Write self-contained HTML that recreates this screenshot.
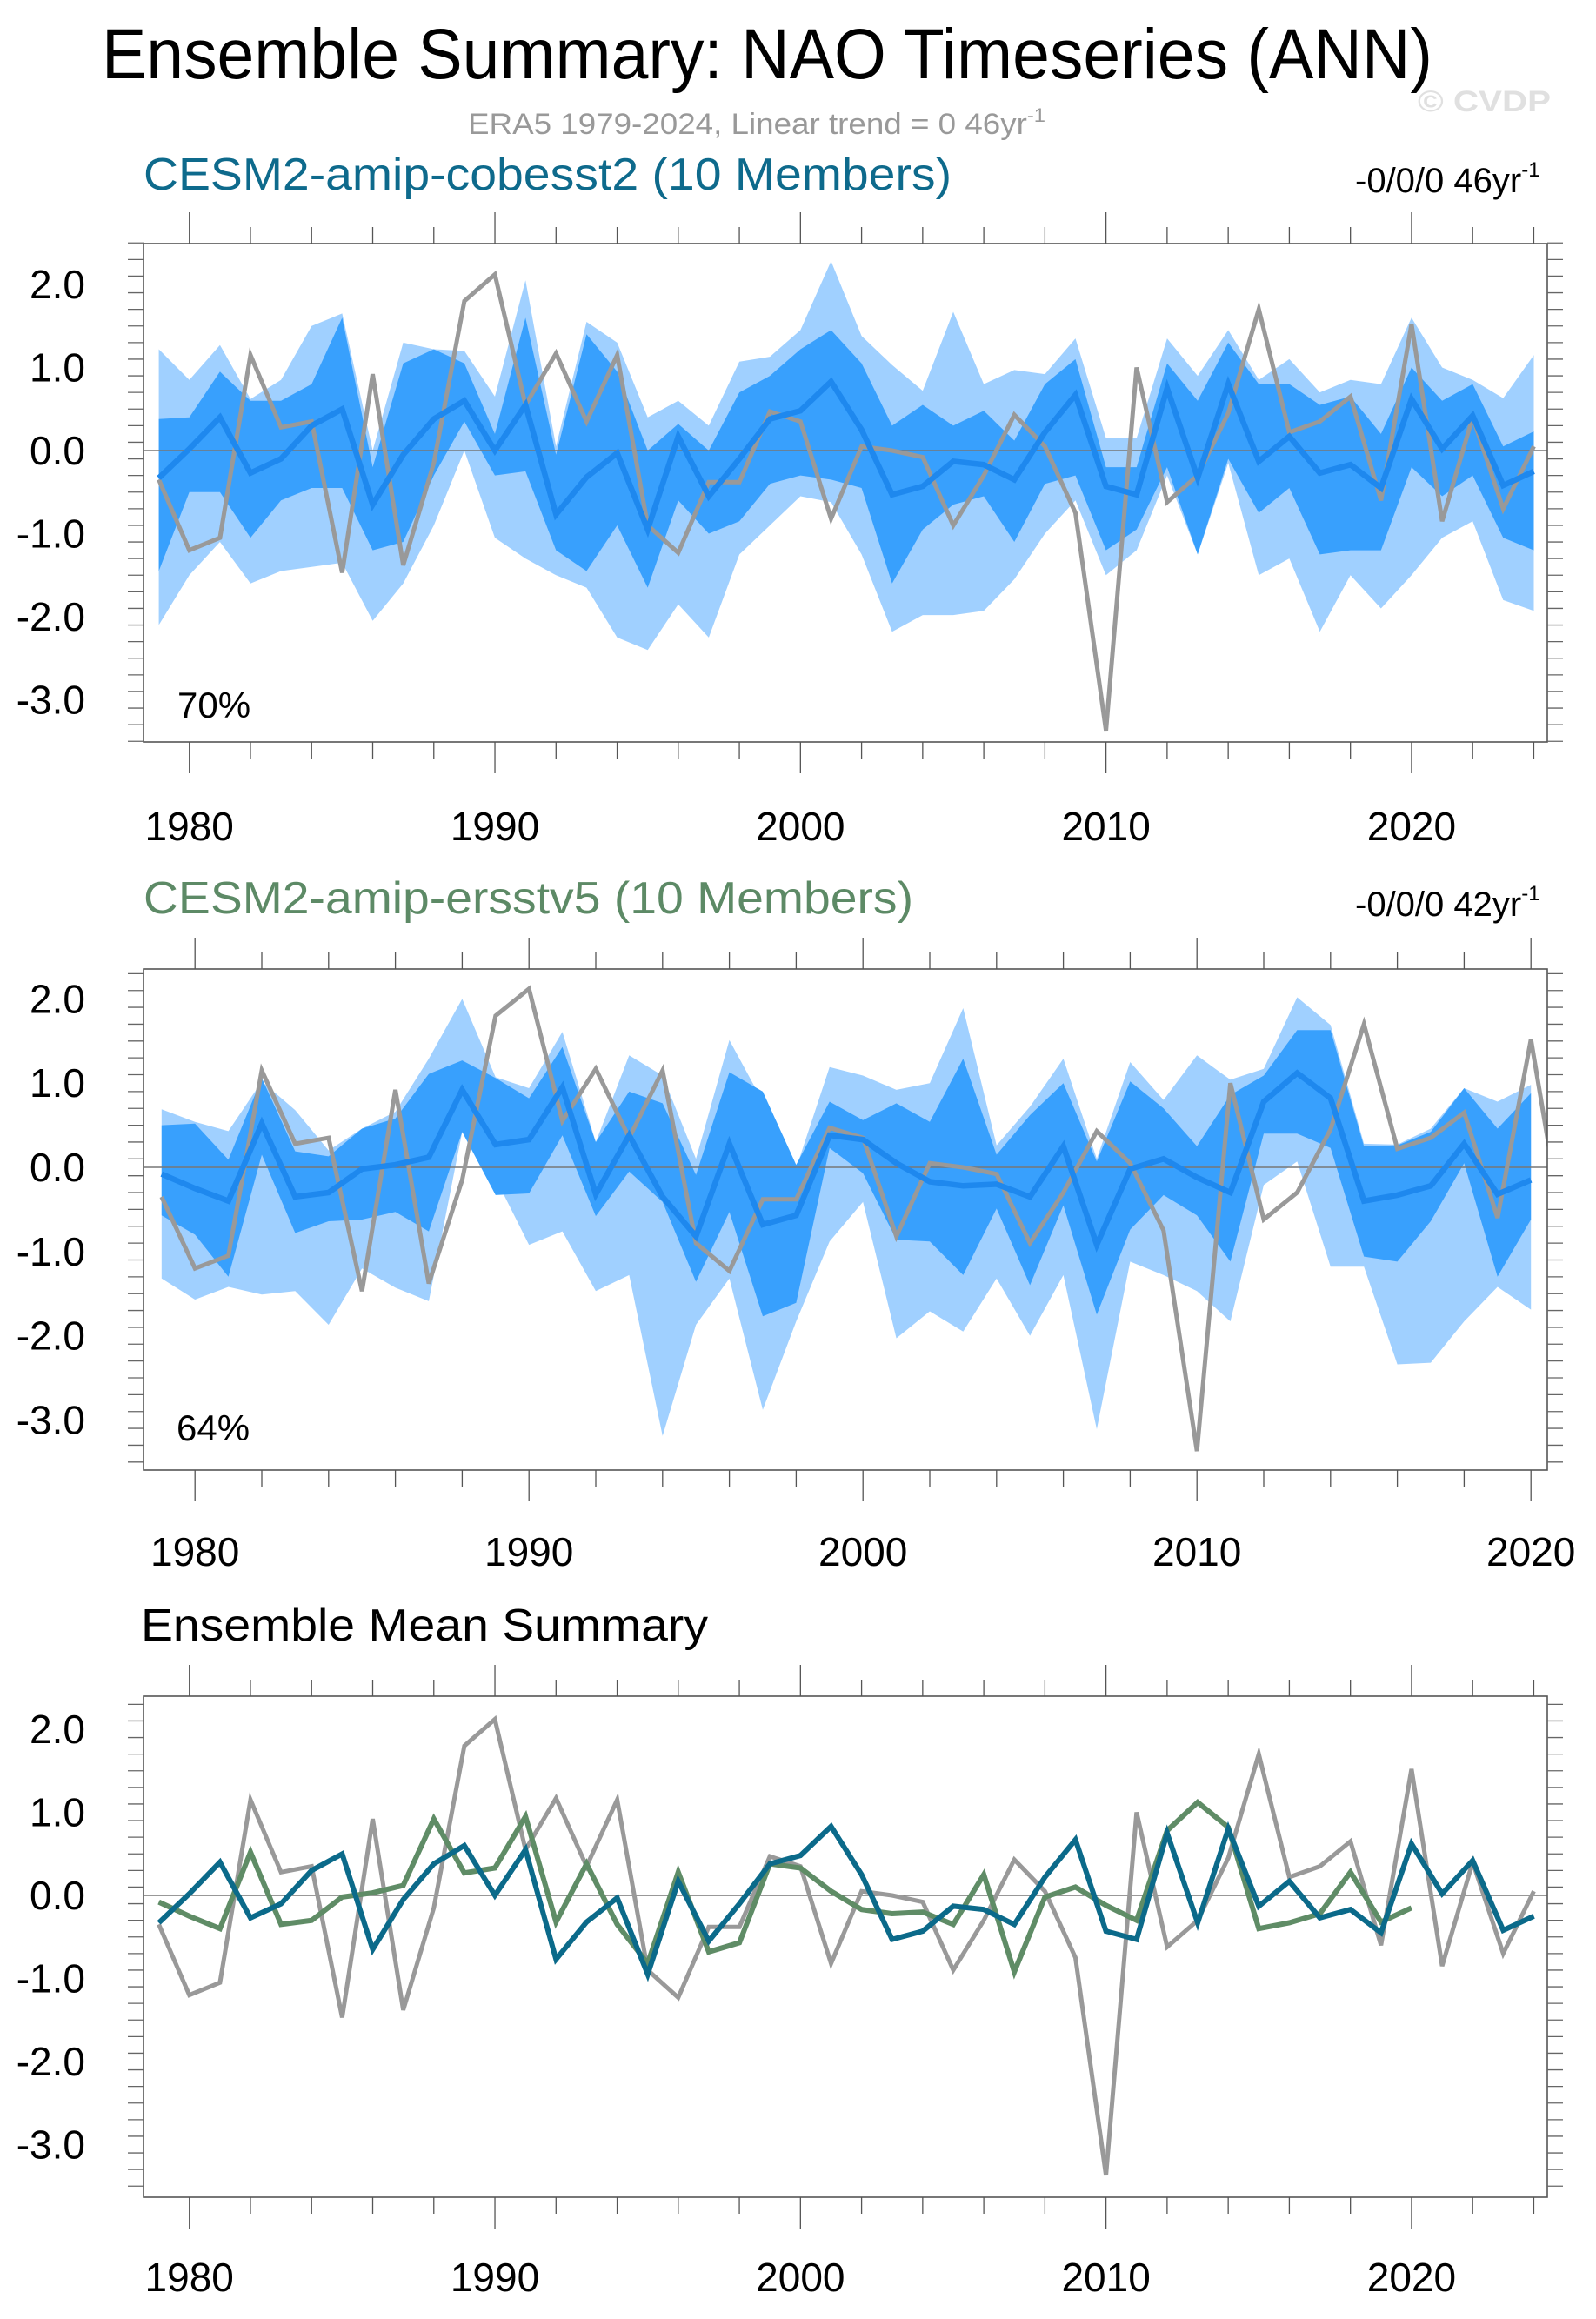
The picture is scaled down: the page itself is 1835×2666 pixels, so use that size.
<!DOCTYPE html>
<html><head><meta charset="utf-8"><style>
html,body{margin:0;padding:0;background:#fff}
svg{display:block;font-family:"Liberation Sans",sans-serif}
</style></head><body>
<svg id="s" width="1835" height="2666" viewBox="0 0 1835 2666">
<text x="117" y="90" font-size="82" textLength="1530" lengthAdjust="spacingAndGlyphs" fill="#000">Ensemble Summary: NAO Timeseries (ANN)</text>
<text x="538" y="154" font-size="34" textLength="664" lengthAdjust="spacingAndGlyphs" fill="#999">ERA5 1979-2024, Linear trend = 0 46yr<tspan font-size="22" dy="-14">-1</tspan></text>
<text x="1630" y="128" font-size="34" font-weight="bold" textLength="153" lengthAdjust="spacingAndGlyphs" fill="#e0e0e0">© CVDP</text>
<text x="165" y="218" font-size="52" textLength="929" lengthAdjust="spacingAndGlyphs" fill="#0e6a8c">CESM2-amip-cobesst2 (10 Members)</text>
<text x="1558" y="221" font-size="40" fill="#000">-0/0/0 46yr<tspan font-size="24" dy="-18">-1</tspan></text>
<text x="165" y="1050" font-size="52" textLength="885" lengthAdjust="spacingAndGlyphs" fill="#5d8a66">CESM2-amip-ersstv5 (10 Members)</text>
<text x="1558" y="1053" font-size="40" fill="#000">-0/0/0 42yr<tspan font-size="24" dy="-18">-1</tspan></text>
<text x="162" y="1886" font-size="52" textLength="652" lengthAdjust="spacingAndGlyphs" fill="#000">Ensemble Mean Summary</text>
</svg>
<script>
const years1 = [1979,1980,1981,1982,1983,1984,1985,1986,1987,1988,1989,1990,1991,1992,1993,1994,1995,1996,1997,1998,1999,2000,2001,2002,2003,2004,2005,2006,2007,2008,2009,2010,2011,2012,2013,2014,2015,2016,2017,2018,2019,2020,2021,2022,2023,2024];
const years2 = years1.slice(0,42);
const obs = [-0.35,-1.2,-1.05,1.15,0.28,0.35,-1.47,0.92,-1.38,-0.15,1.8,2.12,0.55,1.17,0.35,1.15,-0.9,-1.23,-0.38,-0.38,0.47,0.35,-0.82,0.05,0.0,-0.08,-0.9,-0.3,0.43,0.05,-0.75,-3.37,1.0,-0.62,-0.3,0.45,1.7,0.22,0.35,0.65,-0.6,1.52,-0.85,0.4,-0.7,0.05];
const mean1 = [-0.33,0.02,0.4,-0.27,-0.1,0.3,0.5,-0.65,-0.05,0.38,0.6,0.0,0.55,-0.77,-0.32,-0.03,-0.95,0.17,-0.55,-0.1,0.38,0.48,0.83,0.25,-0.53,-0.43,-0.13,-0.17,-0.35,0.22,0.67,-0.43,-0.53,0.75,-0.33,0.8,-0.13,0.17,-0.27,-0.17,-0.45,0.62,0.02,0.42,-0.42,-0.25];
const outerHi1 = [1.22,0.85,1.27,0.62,0.85,1.5,1.65,0.0,1.3,1.22,1.2,0.65,2.05,0.05,1.55,1.3,0.4,0.6,0.3,1.07,1.13,1.45,2.28,1.38,1.03,0.72,1.67,0.8,0.97,0.92,1.35,0.15,0.15,1.35,0.9,1.45,0.85,1.1,0.7,0.85,0.8,1.6,1.0,0.85,0.63,1.15];
const outerLo1 = [-2.1,-1.5,-1.1,-1.6,-1.45,-1.4,-1.35,-2.05,-1.6,-0.9,0.0,-1.05,-1.3,-1.5,-1.65,-2.25,-2.4,-1.85,-2.25,-1.25,-0.9,-0.55,-0.62,-1.25,-2.18,-1.98,-1.98,-1.93,-1.55,-1.0,-0.6,-1.5,-1.2,-0.3,-1.25,-0.15,-1.5,-1.3,-2.18,-1.5,-1.9,-1.5,-1.05,-0.85,-1.8,-1.93];
const innerHi1 = [0.38,0.4,0.95,0.6,0.6,0.8,1.6,-0.2,1.05,1.22,1.05,0.2,1.6,-0.05,1.4,0.95,0.0,0.32,0.0,0.7,0.9,1.22,1.45,1.05,0.3,0.55,0.3,0.48,0.12,0.8,1.1,-0.2,-0.2,1.05,0.6,1.3,0.8,0.8,0.55,0.65,0.2,1.0,0.6,0.8,0.05,0.23];
const innerLo1 = [-1.45,-0.5,-0.5,-1.05,-0.6,-0.45,-0.45,-1.2,-1.1,-0.3,0.35,-0.3,-0.25,-1.2,-1.45,-0.9,-1.65,-0.6,-1.0,-0.85,-0.4,-0.3,-0.35,-0.45,-1.6,-0.95,-0.65,-0.55,-1.1,-0.4,-0.3,-1.2,-0.95,-0.2,-1.25,-0.1,-0.75,-0.45,-1.25,-1.2,-1.2,-0.2,-0.55,-0.3,-1.05,-1.2];
const mean2 = [-0.08,-0.25,-0.4,0.52,-0.35,-0.3,-0.02,0.03,0.12,0.92,0.27,0.33,0.95,-0.32,0.38,-0.35,-0.82,0.28,-0.68,-0.57,0.38,0.33,0.05,-0.17,-0.22,-0.2,-0.35,0.25,-0.92,-0.02,0.1,-0.12,-0.3,0.78,1.12,0.82,-0.4,-0.33,-0.22,0.28,-0.32,-0.15];
const outerHi2 = [0.69,0.54,0.43,1.02,0.68,0.2,0.46,0.66,1.29,2.0,1.07,0.94,1.61,0.3,1.33,1.09,0.1,1.51,0.78,-0.01,1.19,1.09,0.92,1.0,1.89,0.26,0.72,1.29,0.1,1.25,0.8,1.33,1.04,1.17,2.02,1.69,0.28,0.27,0.46,0.94,0.78,0.98];
const outerLo2 = [-1.32,-1.57,-1.42,-1.51,-1.47,-1.87,-1.2,-1.43,-1.59,0.42,-0.13,-0.92,-0.76,-1.47,-1.28,-3.19,-1.87,-1.32,-2.88,-1.83,-0.88,-0.41,-2.03,-1.71,-1.95,-1.32,-2.0,-1.28,-3.11,-1.12,-1.28,-1.47,-1.83,-0.21,0.07,-1.18,-1.18,-2.34,-2.32,-1.83,-1.42,-1.69];
const innerHi2 = [0.5,0.52,0.09,1.06,0.19,0.13,0.46,0.58,1.11,1.27,1.06,0.82,1.43,0.3,0.9,0.76,-0.09,1.13,0.9,0.03,0.78,0.56,0.76,0.54,1.29,0.15,0.62,1.0,0.07,1.02,0.7,0.25,0.86,1.09,1.63,1.63,0.25,0.26,0.42,0.94,0.46,0.88];
const innerLo2 = [-0.57,-0.8,-1.3,0.15,-0.78,-0.64,-0.62,-0.53,-0.76,0.42,-0.33,-0.31,0.38,-0.58,-0.05,-0.41,-1.36,-0.53,-1.77,-1.61,0.23,-0.07,-0.86,-0.88,-1.28,-0.49,-1.4,-0.45,-1.75,-0.74,-0.33,-0.57,-1.12,0.4,0.4,0.23,-1.06,-1.12,-0.64,0.05,-1.3,-0.62];
const yTickVals = [2.0,1.0,0.0,-1.0,-2.0,-3.0];
const yTickLabels = ["2.0","1.0","0.0","-1.0","-2.0","-3.0"];
const xTickYears = [1980,1990,2000,2010,2020];

const NS='http://www.w3.org/2000/svg';
const svg=document.getElementById('s');
function mk(tag,attrs,parent){const e=document.createElementNS(NS,tag);for(const k in attrs)e.setAttribute(k,attrs[k]);(parent||svg).appendChild(e);return e;}

function panel(id,cfg){
  const g=mk('g',{});
  
  
  const X=yr=>cfg.x0+(yr-1979)*cfg.dx;
  const Y=v=>cfg.y0-v*cfg.uy;
  const clipId='clip-'+id;
  const defs=mk('defs',{},g);
  const cp=mk('clipPath',{id:clipId},defs);
  mk('rect',{x:cfg.L,y:cfg.T,width:cfg.R-cfg.L,height:cfg.B-cfg.T},cp);
  const pg=mk('g',{'clip-path':'url(#'+clipId+')'},g);
  function band(yrs,hi,lo,color,name){
    let d='M'+yrs.map((y,i)=>X(y).toFixed(1)+','+Y(hi[i]).toFixed(1)).join('L');
    for(let i=yrs.length-1;i>=0;i--)d+='L'+X(yrs[i]).toFixed(1)+','+Y(lo[i]).toFixed(1);
    const p=mk('path',{d:d+'Z',fill:color,stroke:'none'},pg);
    
    
  }
  function line(yrs,vals,color,w,name){
    const p=mk('polyline',{points:yrs.map((y,i)=>X(y).toFixed(1)+','+Y(vals[i]).toFixed(1)).join(' '),fill:'none',stroke:color,'stroke-width':w,'stroke-linejoin':'miter'},pg);
    
    
  }
  (cfg.bands||[]).forEach(b=>band(b[0],b[1],b[2],b[3],b[4]));
  const zl=mk('line',{x1:cfg.L,x2:cfg.R,y1:Y(0),y2:Y(0),stroke:'#777','stroke-width':1.5},pg);
  
  
  (cfg.lines||[]).forEach(l=>line(l[0],l[1],l[2],l[3],l[4]));
  mk('rect',{x:cfg.L,y:cfg.T,width:cfg.R-cfg.L,height:cfg.B-cfg.T,fill:'none',stroke:'#555','stroke-width':1.6},g);
  for(let yr=1980;yr<=2024;yr+=2){
    const x=X(yr); if(x>cfg.R+1)continue;
    const major=yr%10===0, len=major?36:19;
    mk('line',{x1:x,x2:x,y1:cfg.T,y2:cfg.T-len,stroke:'#555','stroke-width':1.3},g);
    mk('line',{x1:x,x2:x,y1:cfg.B,y2:cfg.B+len,stroke:'#555','stroke-width':1.3},g);
  }
  for(let k=-35;k<=25;k+=2){
    const v=k/10, y=Y(v); if(y<cfg.T-1||y>cfg.B+1)continue;
    const major=Math.abs(k%10)===0, len=major?35:18;
    mk('line',{x1:cfg.L,x2:cfg.L-len,y1:y,y2:y,stroke:'#666','stroke-width':1.3},g);
    mk('line',{x1:cfg.R,x2:cfg.R+len,y1:y,y2:y,stroke:'#666','stroke-width':1.3},g);
  }
  yTickVals.forEach((v,i)=>{
    const t=mk('text',{x:98,y:Y(v)+16,'font-size':46,'text-anchor':'end',fill:'#000'},g);
    t.textContent=yTickLabels[i];
    
    
  });
  xTickYears.forEach(yr=>{
    const t=mk('text',{x:X(yr),y:cfg.labY,'font-size':46,'text-anchor':'middle',fill:'#000'},g);
    t.textContent=String(yr);
    
    
  });
  if(cfg.pct){
    const t=mk('text',{x:cfg.pct[0],y:cfg.pct[1],'font-size':42,fill:'#000'},g);
    t.textContent=cfg.pct[2];
    
    
  }
}
const LIGHT='#a0d0ff', DARK='#38a0fd', MBLUE='#1e88ee', GRAY='#999999', TEAL='#0b6a8a', GREEN='#5f8c66';
panel('panel1-cobesst2',{L:165,R:1779,T:280,B:853,x0:182.6,dx:35.13,y0:518,uy:95.5,labY:966,pct:[204,825,'70%'],
  bands:[[years1,outerHi1,outerLo1,LIGHT,'outer-spread-band'],[years1,innerHi1,innerLo1,DARK,'inner-spread-band']],
  lines:[[years1,obs,GRAY,5,'era5-obs-line'],[years1,mean1,MBLUE,6.5,'ensemble-mean-line']]});
panel('panel2-ersstv5',{L:165,R:1779,T:1114,B:1690,x0:185.8,dx:38.4,y0:1342,uy:96.8,labY:1800,pct:[203,1656,'64%'],
  bands:[[years2,outerHi2,outerLo2,LIGHT,'outer-spread-band'],[years2,innerHi2,innerLo2,DARK,'inner-spread-band']],
  lines:[[years1,obs,GRAY,5,'era5-obs-line'],[years2,mean2,MBLUE,6.5,'ensemble-mean-line']]});
panel('panel3-mean-summary',{L:165,R:1779,T:1950,B:2526,x0:182.6,dx:35.13,y0:2179,uy:95.5,labY:2634,
  lines:[[years1,obs,GRAY,5,'era5-obs-line'],[years2,mean2,GREEN,6,'ersstv5-mean-line'],[years1,mean1,TEAL,6,'cobesst2-mean-line']]});
</script>
</body></html>
